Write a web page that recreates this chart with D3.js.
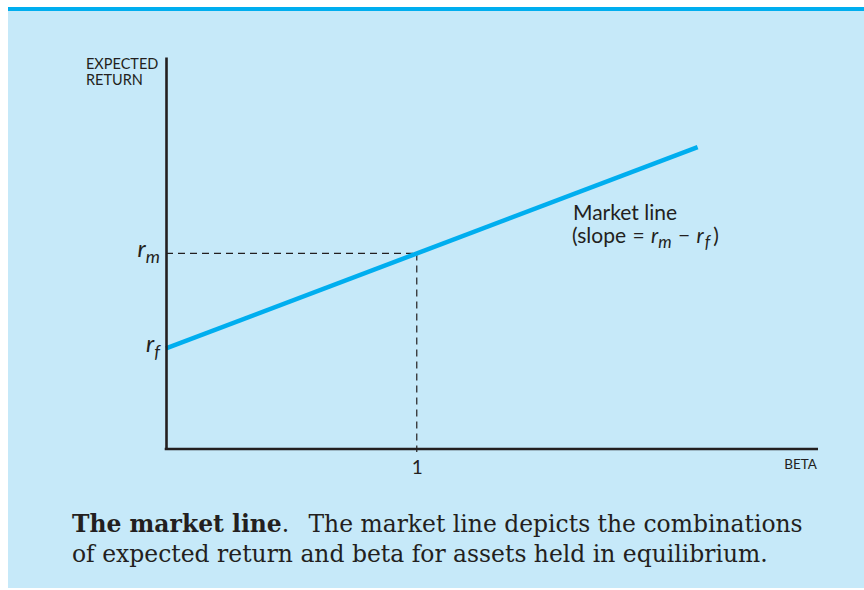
<!DOCTYPE html>
<html>
<head>
<meta charset="utf-8">
<script src="https://cdn.jsdelivr.net/npm/d3@7"></script>
<style>
  html, body { margin: 0; padding: 0; background: #fff; }
  svg { display: block; }
  .lbl { font-family: Lato, "Open Sans", sans-serif; fill: #231f20; }
  .cap { font-family: "DejaVu Serif", "Liberation Serif", serif; fill: #231f20; }
</style>
</head>
<body>
<div id="chart"></div>
<script>
// beta vs expected return (return units: rf, rm on an arbitrary scale)
const marketBeta = [0, 2.12];
const marketReturn = [1.06, 3.18];
const rf = 1.06;
const rm = 2.06;
const betaTicks = [1];
const betaDomain = [0, 2.6];
const returnDomain = [0, 4.13];
const captionLines = [
    [{ t: 'The market line', b: true }, { t: '.\u2002 The market line depicts the combinations', b: false }],
    [{ t: 'of expected return and beta for assets held in equilibrium.', b: false }]
];

const W = 864, H = 590;
const blue = '#00aeef';
const ink = '#231f20';

const svg = d3.select('#chart')
    .append('svg')
    .attr('width', W)
    .attr('height', H);

// panel
svg.append('rect')
    .attr('x', 8).attr('y', 7)
    .attr('width', W - 8).attr('height', H - 9)
    .attr('fill', '#c6e9f9');
svg.append('rect')
    .attr('x', 8).attr('y', 7)
    .attr('width', W - 8).attr('height', 4)
    .attr('fill', blue);

const x = d3.scaleLinear().domain(betaDomain).range([166, 818]);
const y = d3.scaleLinear().domain(returnDomain).range([449, 57]);

// dashed guides to rm / beta = 1
const g = svg.append('g');
g.append('line')
    .attr('x1', x(0)).attr('x2', x(1))
    .attr('y1', y(rm)).attr('y2', y(rm))
    .attr('stroke', ink).attr('stroke-width', 1.2)
    .attr('stroke-dasharray', '7,5');
g.append('line')
    .attr('x1', x(1)).attr('x2', x(1))
    .attr('y1', y(rm)).attr('y2', y(0) + 3)
    .attr('stroke', ink).attr('stroke-width', 1.2)
    .attr('stroke-dasharray', '7,5');

// market line
const pts = marketBeta.map((b, i) => [b, marketReturn[i]]);
g.append('path')
    .datum(pts)
    .attr('fill', 'none')
    .attr('stroke', blue)
    .attr('stroke-width', 4.5)
    .attr('d', d3.line().x(d => x(d[0])).y(d => y(d[1])));

// axes
const xAxis = svg.append('g')
    .attr('transform', `translate(0,${y(0)})`)
    .call(d3.axisBottom(x).tickValues(betaTicks).tickSize(0).tickPadding(12).tickFormat(d3.format('d')));
xAxis.select('.domain').attr('stroke', ink).attr('stroke-width', 2.6).attr('d', `M${x(0) - 1.3},0H${x(betaDomain[1])}`);
xAxis.selectAll('text').attr('class', 'lbl').style('font-size', '19px').attr('fill', ink);

const yAxis = svg.append('g')
    .attr('transform', `translate(${x(0)},0)`)
    .call(d3.axisLeft(y).tickValues([]).tickSize(0));
yAxis.select('.domain').attr('stroke', ink).attr('stroke-width', 2.6);

// y labels r_m, r_f
function subLabel(val, sub) {
    const t = svg.append('text')
        .attr('class', 'lbl')
        .attr('x', x(0) - 6)
        .attr('y', y(val) + 4)
        .attr('text-anchor', 'end')
        .style('font-size', '24px')
        .style('font-style', 'italic');
    t.append('tspan').text('r');
    t.append('tspan').attr('dy', 6).style('font-size', '18px').text(sub);
}
subLabel(rm, 'm');
subLabel(rf, 'f');

// axis titles
svg.append('text').attr('class', 'lbl').attr('x', 86).attr('y', 69)
    .style('font-size', '14.5px').text('EXPECTED');
svg.append('text').attr('class', 'lbl').attr('x', 86).attr('y', 85)
    .style('font-size', '14.5px').text('RETURN');
svg.append('text').attr('class', 'lbl').attr('x', 817).attr('y', 469)
    .attr('text-anchor', 'end')
    .style('font-size', '13.5px').text('BETA');

// line annotation
svg.append('text').attr('class', 'lbl').attr('x', 573).attr('y', 220)
    .style('font-size', '21px').text('Market line');
const ann = svg.append('text').attr('class', 'lbl').attr('x', 572).attr('y', 243)
    .style('font-size', '21px')
    .style('word-spacing', '1px');
ann.append('tspan').text('(slope = ');
ann.append('tspan').style('font-style', 'italic').text('r');
ann.append('tspan').style('font-style', 'italic').style('font-size', '17px').attr('dy', 5).text('m');
ann.append('tspan').attr('dy', -5).text(' \u2212 ');
ann.append('tspan').style('font-style', 'italic').text('r');
ann.append('tspan').style('font-style', 'italic').style('font-size', '17px').attr('dy', 5).attr('dx', 1).text('f');
ann.append('tspan').attr('dy', -5).attr('dx', 3).text(')');

// caption, sized so the first line spans the panel text width
const capY = [532, 562];
const capTexts = captionLines.map((parts, i) => {
    const t = svg.append('text').attr('class', 'cap')
        .attr('x', 72).attr('y', capY[i])
        .style('font-size', '20px');
    parts.forEach(p => {
        t.append('tspan').style('font-weight', p.b ? 'bold' : 'normal').text(p.t);
    });
    return t;
});
const w0 = capTexts[0].node().getComputedTextLength();
const fs = Math.min(24, 20 * 731 / w0);
capTexts.forEach(t => t.style('font-size', fs + 'px'));
</script>
</body>
</html>
